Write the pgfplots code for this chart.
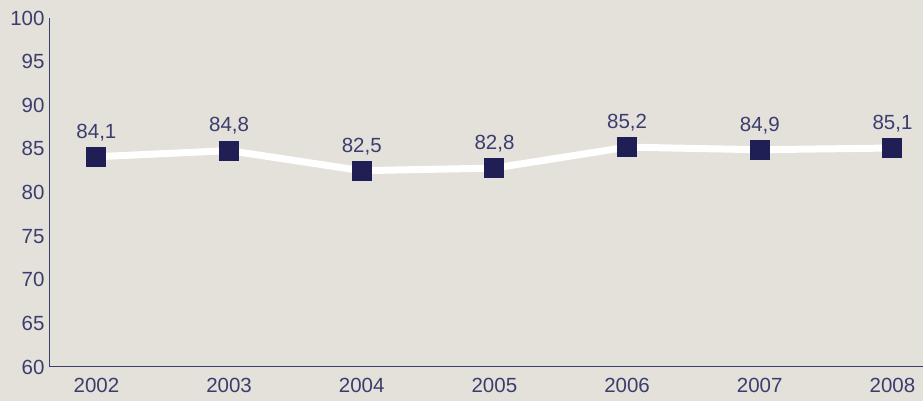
\documentclass[border=0pt]{standalone}
\usepackage{fontspec}
\setmainfont{Liberation Sans}
\usepackage{pgfplots}
\pgfplotsset{compat=1.18}
\definecolor{bg}{HTML}{E4E1DA}
\definecolor{ink}{HTML}{3B3D6E}
\definecolor{navy}{HTML}{1F1F55}
\begin{document}
\begin{tikzpicture}
\fill[bg] (-50pt,-34pt) rectangle (873pt,367pt);
\begin{axis}[
    at={(0,0)}, anchor=origin,
    scale only axis,
    width=873pt, height=349pt,
    xmin=2001.65, xmax=2008.23,
    ymin=60, ymax=100,
    xtick={2002,...,2008},
    ytick={60,65,...,100},
    axis x line*=bottom,
    axis y line*=left,
    axis line style={ink, line width=1pt, -},
    major tick length=0pt,
    x tick label style={/pgf/number format/1000 sep={}, yshift=-8pt},
    y tick label style={xshift=-2pt},
    ticklabel style={font=\fontsize{20.5}{20.5}\selectfont, text=ink},
    /pgf/number format/assume math mode=true,
    clip=false,
    nodes near coords,
    nodes near coords style={font=\fontsize{20.5}{20.5}\selectfont, text=ink, anchor=south, inner sep=0pt, yshift=16pt,
        /pgf/number format/.cd, use comma, fixed, fixed zerofill, precision=1, assume math mode=true},
]
\addplot[white, line width=7pt, mark=square*, mark size=9.5pt,
    mark options={navy, fill=navy, line width=0pt}]
coordinates {
(2002,84.1)
(2003,84.8)
(2004,82.5)
(2005,82.8)
(2006,85.2)
(2007,84.9)
(2008,85.1)
};
\end{axis}
\pgfresetboundingbox
\path[use as bounding box] (-50pt,-34pt) rectangle (873pt,367pt);
\end{tikzpicture}
\end{document}
